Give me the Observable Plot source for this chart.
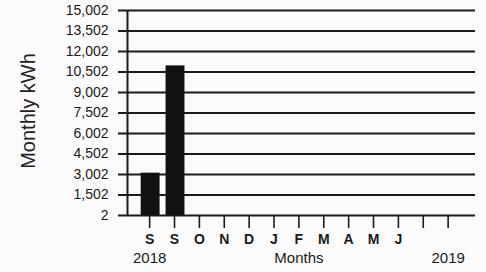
<!DOCTYPE html>
<html>
<head>
<meta charset="utf-8">
<script src="https://cdn.jsdelivr.net/npm/d3@7"></script>
<script src="https://cdn.jsdelivr.net/npm/@observablehq/plot@0.6"></script>
<style>
  html, body { margin: 0; padding: 0; background: #fbfbfb; }
  #chart svg { display: block; background: #fbfbfb; }
</style>
</head>
<body>
<div id="chart"></div>
<script>
const months = ["S", "S", "O", "N", "D", "J", "F", "M", "A", "M", "J", "", ""];
const kwh = [3100, 10950, null, null, null, null, null, null, null, null, null, null, null];
const yTicks = [2, 1502, 3002, 4502, 6002, 7502, 9002, 10502, 12002, 13502, 15002];
const bottomLabels = ["2018", "Months", "2019"];
const bottomLabelIndex = [0, 6, 12];
const yLabel = "Monthly kWh";

const bars = months.map((m, i) => ({i, m, v: kwh[i]})).filter(d => d.v != null);
const bottom = bottomLabels.map((t, k) => ({t, i: bottomLabelIndex[k]}));
const ink = "#1a1a1a";

const chart = Plot.plot({
  width: 486,
  height: 272,
  marginLeft: 127,
  marginRight: 11,
  marginTop: 10,
  marginBottom: 57,
  style: {fontFamily: "'Liberation Sans', Arial, sans-serif", color: ink, background: "#fbfbfb"},
  x: {type: "linear", domain: [-0.89, 13.1], axis: null},
  y: {domain: [2, 15002], axis: null},
  marks: [
    Plot.ruleY(yTicks, {stroke: ink, strokeWidth: 2}),
    Plot.axisY({ticks: yTicks, tickFormat: d3.format(","), tickSize: 9, tickPadding: 10, fontSize: 14, stroke: ink, strokeWidth: 2, label: null}),
    Plot.ruleX([-0.89], {y1: 2, y2: 15002, stroke: ink, strokeWidth: 2}),
    Plot.rectY(bars, {x1: d => d.i - 0.34, x2: d => d.i + 0.42, y1: 2, y2: "v", fill: "#111"}),
    Plot.axisX({ticks: d3.range(months.length), tickFormat: i => months[i], tickSize: 13, tickPadding: 6, fontSize: 14, fontWeight: "bold", stroke: ink, strokeWidth: 1.6, label: null}),
    Plot.text(bottom, {x: "i", text: "t", frameAnchor: "bottom", dy: 47, fontSize: 15, fill: ink}),
    Plot.text([yLabel], {frameAnchor: "left", textAnchor: "middle", rotate: -90, dx: -99, dy: -2, fontSize: 20, fill: "#222"})
  ]
});
document.getElementById("chart").appendChild(chart);
</script>
</body>
</html>
